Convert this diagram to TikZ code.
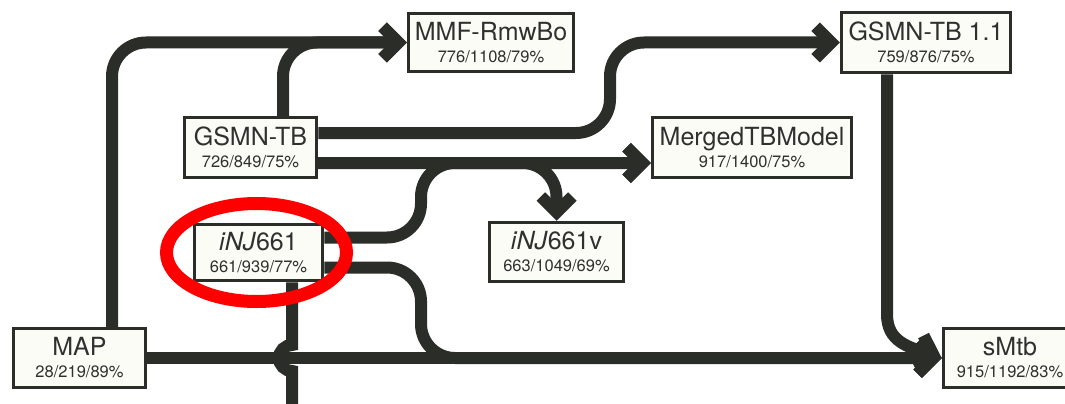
\documentclass[tikz,border=0pt]{standalone}
\usepackage{fontspec}
\setmainfont{TeX Gyre Heros}
\usetikzlibrary{calc}

\definecolor{ink}{HTML}{2B2D29}
\definecolor{paper}{HTML}{FCFCF6}
\definecolor{label}{HTML}{303030}

\newcommand\boxtitle[1]{{\fontsize{25}{25}\selectfont #1}}

% thick chevron arrow head, fixed size
\pgfdeclarearrow{
  name = Chev,
  setup code = {
    \pgfarrowssettipend{0pt}
    \pgfarrowssetlineend{-10pt}
    \pgfarrowssetbackend{-28.5pt}
    \pgfarrowshullpoint{0pt}{0pt}
    \pgfarrowsupperhullpoint{-20pt}{20pt}
    \pgfarrowsupperhullpoint{-28.5pt}{11.5pt}
  },
  drawing code = {
    \pgfpathmoveto{\pgfpointorigin}
    \pgfpathlineto{\pgfpoint{-20pt}{20pt}}
    \pgfpathlineto{\pgfpoint{-28.5pt}{11.5pt}}
    \pgfpathlineto{\pgfpoint{-17pt}{0pt}}
    \pgfpathlineto{\pgfpoint{-28.5pt}{-11.5pt}}
    \pgfpathlineto{\pgfpoint{-20pt}{-20pt}}
    \pgfpathclose
    \pgfusepathqfill
  }
}

\begin{document}
\begin{tikzpicture}[x=1pt, y=-1pt,
  box/.style={draw=ink, line width=3.5pt, fill=paper, text=label, align=center,
    inner sep=0pt, font=\fontsize{16.5}{22}\selectfont},
  conn/.style={line width=12pt, color=ink, rounded corners=34pt, -Chev},
  wire/.style={line width=12pt, color=ink}]
\useasboundingbox (0,0) rectangle (1065,404);
\clip (0,0) rectangle (1065,404);

% models
\node[box, minimum width=165pt, minimum height=58pt] (mmf) at (491,42.5) {\boxtitle{MMF-RmwBo}\\776/1108/79\%};
\node[box, minimum width=169pt, minimum height=60pt] (g11) at (926,42.5) {\boxtitle{GSMN-TB 1.1}\\759/876/75\%};
\node[box, minimum width=132pt, minimum height=60pt] (gsmn) at (250.5,147.5) {\boxtitle{GSMN-TB}\\726/849/75\%};
\node[box, minimum width=199pt, minimum height=60pt] (mtb) at (752,147.5) {\boxtitle{MergedTBModel}\\917/1400/75\%};
\node[box, minimum width=128pt, minimum height=56pt] (inj) at (258.5,252.5) {\boxtitle{\textit{iNJ}661}\\661/939/77\%};
\node[box, minimum width=134pt, minimum height=59pt] (injv) at (556.5,252) {\boxtitle{\textit{iNJ}661v}\\663/1049/69\%};
\node[box, minimum width=132pt, minimum height=59pt] (map) at (79.5,358) {\boxtitle{MAP}\\28/219/89\%};
\node[box, minimum width=133pt, minimum height=59pt] (smtb) at (1010,358) {\boxtitle{sMtb}\\915/1192/83\%};

% routing helpers
\coordinate (rise) at (610,0);
\coordinate (join) at (421,0);
\coordinate (hop) at (292,345);
\coordinate (down) at (292,420);
\coordinate (bend) at (887,314);

% lineage
\draw[conn] ([xshift=32.5pt]map.north) |- (mmf.west);
\draw[conn] ([xshift=32.5pt]gsmn.north) |- (mmf.west);
\draw[conn] ([yshift=14.5pt]gsmn.east) -- ([yshift=14.5pt]gsmn.east -| rise) -- (rise |- g11.west) -- (g11.west);
\draw[conn] ([yshift=-15.5pt]gsmn.east) -- ([yshift=-15.5pt]mtb.west);
\draw[conn] ([yshift=-15.5pt]gsmn.east) -| (injv.north);
\draw[conn] ([yshift=15pt]inj.east) -- ([yshift=15pt]inj.east -| join) -- ([yshift=-15.5pt]mtb.west -| join) -- ([yshift=-15.5pt]mtb.west);
\draw[conn] ([yshift=-15pt]inj.east) -- ([yshift=-15pt]inj.east -| join) -- (join |- smtb.west) -- (smtb.west);
\draw[conn] (map.east) -- (smtb.west);
\draw[wire, -Chev] ([xshift=-39pt]g11.south) -- (bend) .. controls (887,342) and (908,347) .. (smtb.west);
\draw[wire] ([xshift=33.5pt]inj.south) -- (hop) arc[start angle=90, end angle=270, radius=13pt] -- (down);

% highlight
\draw[line width=13pt, color=red] (256.5,252.5) ellipse [x radius=90pt, y radius=49pt];
\end{tikzpicture}
\end{document}
